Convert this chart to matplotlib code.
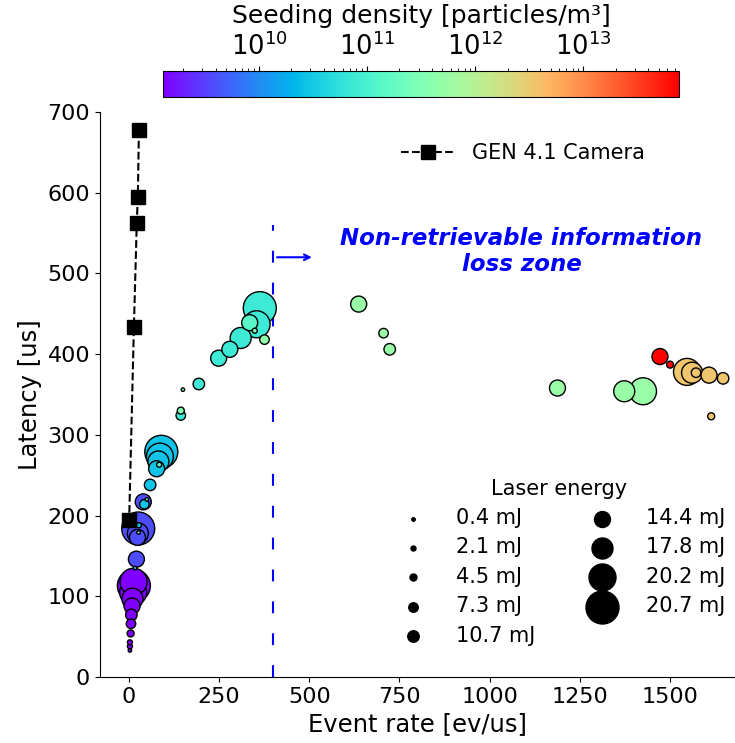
import numpy as np
import matplotlib
matplotlib.use("Agg")
import matplotlib.pyplot as plt
from matplotlib.colors import LogNorm
from matplotlib.lines import Line2D

# --- GEN 4.1 camera reference ---
cam_rate = [28, 25, 22, 14, 1]
cam_latency = [678, 595, 562, 433, 195]

# --- event camera measurements ---
event_rate = [3, 3, 3, 5, 6, 7, 9, 10, 12, 14, 13,
              17,
              21, 26, 25, 24, 28, 27,
              40, 43, 50,
              59,
              90, 86, 82, 77, 84,
              150, 144, 144,
              194, 249, 280, 310, 354, 363, 335, 349, 376,
              637, 706, 723, 1188, 1373, 1425,
              1472, 1500,
              1547, 1561, 1572, 1608, 1647, 1614]
latency = [33, 38, 43, 54, 66, 77, 88, 97, 105, 113, 118,
           135,
           146, 184, 178, 173, 188, 179,
           217, 214, 220,
           238,
           279, 273, 267, 258, 263,
           356, 330, 324,
           363, 395, 406, 420, 437, 457, 439, 429, 418,
           462, 426, 406, 358, 354, 354,
           397, 387,
           378, 377, 377, 374, 370, 323]
density = [1.3e9] * 11 + [2.8e10] + \
          [3.9e9, 3.9e9, 3.9e9, 3.9e9, 2.8e10, 3.2e11] + \
          [3.9e9, 2.8e10, 1.3e11] + [2.8e10] + \
          [2.8e10] * 4 + [1.3e11] + \
          [3.2e11, 3.2e11, 7.6e10] + \
          [7.6e10] * 6 + [1.3e11, 3.2e11, 4.5e11] + \
          [5.5e11] * 6 + [7.7e13] * 2 + [3.5e12] * 6
energy = [0.4, 2.1, 2.1, 4.5, 7.3, 10.7, 14.4, 17.8, 20.2, 20.7, 20.2,
          0.4,
          14.4, 20.7, 17.8, 14.4, 2.1, 0.4,
          14.4, 7.3, 0.4,
          10.7,
          20.7, 20.2, 17.8, 14.4, 2.1,
          0.4, 4.5, 7.3,
          10.7, 14.4, 14.4, 17.8, 20.2, 20.7, 14.4, 2.1, 7.3,
          14.4, 7.3, 10.7, 14.4, 17.8, 20.2,
          14.4, 4.5,
          20.2, 17.8, 7.3, 14.4, 10.7, 4.5]

energy_levels = [0.4, 2.1, 4.5, 7.3, 10.7, 14.4, 17.8, 20.2, 20.7]
marker_px = [3.5, 5, 7, 9.5, 11.5, 16, 21, 27, 33]
size_of = {e: (d * 0.72) ** 2 for e, d in zip(energy_levels, marker_px)}

fig = plt.figure(figsize=(7.35, 7.43), dpi=100)
ax = fig.add_axes([0.136, 0.0888, 0.864, 0.7605])
cax = fig.add_axes([0.2218, 0.8694, 0.702, 0.035])

norm = LogNorm(vmin=1.3e9, vmax=7.7e13)
cmap = plt.get_cmap('rainbow')

x = np.array(event_rate)
y = np.array(latency)
c = np.array(density)
s = np.array([size_of[e] for e in energy])
order = np.argsort(-s, kind='stable')
sc = ax.scatter(x[order], y[order], s=s[order], c=c[order], cmap=cmap, norm=norm,
                edgecolors='black', linewidths=1, zorder=3)

ax.plot(cam_rate, cam_latency, 'k--s', ms=10, lw=1.5, zorder=4)

# information loss boundary
ax.plot([400, 400], [0, 560], color='blue', lw=1.5, linestyle=(0, (5.7, 9.6)), zorder=2)
ax.annotate('', xy=(515, 520), xytext=(403, 520),
            arrowprops=dict(arrowstyle='->', color='blue', lw=1.5))
ax.text(1088, 527, 'Non-retrievable information\nloss zone', ha='center', va='center',
        color='blue', fontsize=16.5, fontweight='bold', style='italic', linespacing=1.2)

ax.set_xlim(-80, 1680)
ax.set_ylim(0, 700)
ax.set_xticks([0, 250, 500, 750, 1000, 1250, 1500])
ax.set_yticks(range(0, 701, 100))
ax.tick_params(labelsize=16)
ax.spines['top'].set_visible(False)
ax.spines['right'].set_visible(False)
ax.set_xlabel('Event rate [ev/us]', fontsize=17.5)
ax.set_ylabel('Latency [us]', fontsize=17.5)

# legends
cam_handle = Line2D([], [], color='k', ls='--', marker='s', ms=10, lw=1.5)
leg1 = ax.legend([cam_handle], ['GEN 4.1 Camera'], loc='upper right',
                 bbox_to_anchor=(0.887, 0.978), frameon=False, fontsize=15,
                 handlelength=2.6)
ax.add_artist(leg1)

size_handles = [ax.scatter([], [], s=size_of[e], c='black') for e in energy_levels]
ax.legend(size_handles, [f'{e} mJ' for e in energy_levels], title='Laser energy',
          ncol=2, frameon=False, fontsize=15, title_fontsize=15,
          loc='upper center', bbox_to_anchor=(0.76, 0.381),
          bbox_transform=fig.transFigure, labelspacing=0.45,
          handletextpad=1.1, columnspacing=2.2)

cbar = fig.colorbar(sc, cax=cax, orientation='horizontal')
cbar.ax.xaxis.set_ticks_position('top')
cbar.ax.xaxis.set_label_position('top')
cbar.set_label('Seeding density [particles/m³]', fontsize=18, labelpad=7)
cbar.ax.tick_params(labelsize=18.5)

fig.savefig('out.png', dpi=100)
